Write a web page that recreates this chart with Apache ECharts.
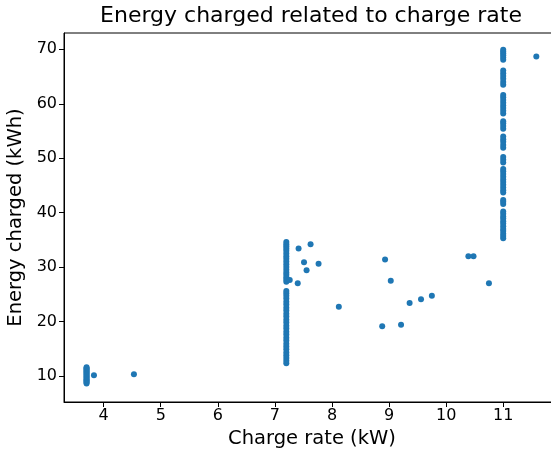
<!DOCTYPE html>
<html>
<head>
<meta charset="utf-8">
<script src="https://cdn.jsdelivr.net/npm/echarts@6/dist/echarts.min.js"></script>
<style>html,body{margin:0;padding:0;background:#fff;overflow:hidden;width:551px;height:455px}#c{width:570px;height:455px}</style>
</head>
<body>
<div id="c"></div>
<script>
// ---- data ----
const xTicks = [4, 5, 6, 7, 8, 9, 10, 11];
const yTicks = [10, 20, 30, 40, 50, 60, 70];

// charge rate 3.7 kW cluster
const energy37 = [8.6, 8.8, 9.0, 9.2, 9.4, 9.6, 9.8, 10.0, 10.2, 10.4, 10.6, 10.8, 11.0, 11.2, 11.4, 11.6];
// charge rate 7.2 kW cluster
const energy72 = [12.3, 12.8, 13.3, 13.8, 14.3, 14.9, 15.4, 15.9, 16.5, 17.0, 17.6, 18.1, 18.7, 19.2, 19.8, 20.3,
  20.9, 21.4, 22.0, 22.5, 23.1, 23.6, 24.2, 24.7, 25.2, 25.6,
  27.3, 27.7, 28.1, 28.6, 29.0, 29.5, 30.0, 30.5, 31.0, 31.5, 32.0, 32.5, 33.0, 33.4, 33.8, 34.2, 34.6];
// charge rate 11 kW cluster
const energy11 = [35.3, 35.7, 36.1, 36.6, 37.0, 37.5, 38.0, 38.4, 38.9, 39.3, 39.8, 40.2,
  41.6, 42.0, 42.3,
  43.7, 44.1, 44.6, 45.1, 45.6, 46.1, 46.6, 47.1, 47.6, 48.0,
  49.2, 49.7, 50.2,
  51.9, 52.4, 53.0, 53.5, 54.0,
  55.4, 55.9, 56.4, 56.8,
  58.2, 58.7, 59.2, 59.7, 60.2, 60.7, 61.2, 61.6,
  63.5, 64.0, 64.6, 65.1, 65.6, 66.1,
  68.1, 68.5, 68.9, 69.3, 69.6, 69.9];
// scattered individual sessions [charge rate, energy]
const otherRates  = [3.83, 4.53, 7.26, 7.40, 7.415, 7.51, 7.555, 7.625, 7.765, 8.12, 8.88, 8.93, 9.03, 9.21, 9.36, 9.56, 9.75, 10.39, 10.48, 10.75, 11.58];
const otherEnergy = [10.1, 10.3, 27.6, 27.0, 33.4, 30.9, 29.4, 34.2, 30.6, 22.7, 19.1, 31.4, 27.5, 19.4, 23.4, 24.1, 24.7, 32.0, 32.0, 27.0, 68.7];

// ---- build ----
const points = [];
energy37.forEach(v => points.push([3.7, v]));
energy72.forEach(v => points.push([7.2, v]));
energy11.forEach(v => points.push([11.0, v]));
otherRates.forEach((r, i) => points.push([r, otherEnergy[i]]));

const font = 'DejaVu Sans';
const chart = echarts.init(document.getElementById('c'), null, {renderer: 'canvas'});
chart.setOption({
  animation: false,
  backgroundColor: '#fff',
  grid: {left: 64, top: 33, right: 10, bottom: 53, show: true, borderColor: '#000', borderWidth: 1,
    backgroundColor: 'transparent', containLabel: false, outerBoundsMode: 'none'},
  graphic: [{
    type: 'text', x: 311, y: 5, silent: true,
    style: {text: 'Energy charged related to charge rate', font: '22px "DejaVu Sans"', fill: '#000', textAlign: 'center', textVerticalAlign: 'top'}
  }],
  xAxis: {
    type: 'value', min: 3.305, max: 11.995,
    name: 'Charge rate (kW)', nameLocation: 'middle', nameGap: 27,
    nameTextStyle: {fontFamily: font, fontSize: 19.5, color: '#000'},
    splitLine: {show: false},
    axisLine: {show: true, lineStyle: {color: '#000', width: 1}},
    axisTick: {show: true, length: 5, lineStyle: {color: '#000'}, customValues: xTicks},
    axisLabel: {customValues: xTicks, fontFamily: font, fontSize: 16, color: '#000', margin: 6}
  },
  yAxis: {
    type: 'value', min: 5.2, max: 73.0,
    name: 'Energy charged (kWh)', nameLocation: 'middle', nameGap: 37,
    nameTextStyle: {fontFamily: font, fontSize: 19.5, color: '#000'},
    splitLine: {show: false},
    axisLine: {show: true, lineStyle: {color: '#000', width: 1}},
    axisTick: {show: true, length: 5, lineStyle: {color: '#000'}, customValues: yTicks},
    axisLabel: {customValues: yTicks, fontFamily: font, fontSize: 16, color: '#000', margin: 7}
  },
  series: [{
    type: 'scatter', data: points, symbol: 'circle', symbolSize: 6,
    itemStyle: {color: '#1f77b4', opacity: 1}
  }]
});
</script>
</body>
</html>
